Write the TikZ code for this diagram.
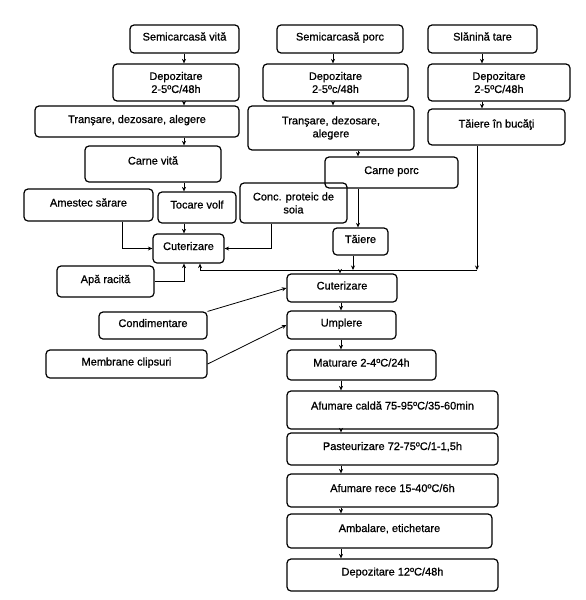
\documentclass[tikz,border=0pt]{standalone}
\usepackage{fontspec}
\setmainfont{Liberation Sans}
\newfontfamily\boxfont[FakeBold=0.7]{Liberation Sans}
\usetikzlibrary{arrows.meta}
\tikzset{
  box/.style={draw, rounded corners=4pt, line width=1.2pt, inner sep=0pt,
    font=\fontsize{11}{13}\boxfont},
  one/.style={box, text height=8pt, text depth=5pt},
  two/.style={box, align=center},
  arr/.style={line width=0.8pt, -{Stealth[length=4.5pt,width=4pt]}},
}
\begin{document}
\begin{tikzpicture}[x=1pt,y=-1pt]
\fill[white] (0,0) rectangle (586,600);
\useasboundingbox (0,0) rectangle (586,600);
% column guides
\coordinate (xv) at (184,0);
\coordinate (xp) at (333,0);
\coordinate (xq) at (358,0);
\coordinate (xs) at (482,0);
\coordinate (xc) at (341,0);
\coordinate (xa) at (122,0);
\coordinate (xk) at (271,0);
% vita
\node[one, minimum width=109pt, minimum height=28pt] (sv) at (184.5,39) {Semicarcasă vită};
\node[two, minimum width=126pt, minimum height=37pt] (dv) at (176,82.5) {Depozitare\\2-5ºC/48h};
\node[one, minimum width=204pt, minimum height=31pt] (tv) at (137,121.5) {Tranşare, dezosare, alegere};
\node[one, text depth=7pt, minimum width=136pt, minimum height=36pt] (cv) at (153,164) {Carne vită};
% porc
\node[one, minimum width=126pt, minimum height=28pt] (sp) at (340,39) {Semicarcasă porc};
\node[two, minimum width=145pt, minimum height=37pt] (dp) at (335.5,82.5) {Depozitare\\2-5ºc/48h};
\node[two, minimum width=166pt, minimum height=44pt] (tp) at (331,128) {Tranşare, dezosare,\\alegere};
\node[one, minimum width=133pt, minimum height=31pt] (cp) at (391.5,172.5) {Carne porc};
% slanina
\node[one, minimum width=109pt, minimum height=28pt] (st) at (482.5,39) {Slănină tare};
\node[two, minimum width=142pt, minimum height=37pt] (ds) at (499,82.5) {Depozitare\\2-5ºC/48h};
\node[one, text depth=7pt, minimum width=137pt, minimum height=36pt] (tb) at (496.5,127) {Tăiere în bucăţi};
% middle
\node[one, minimum width=129pt, minimum height=32pt] (as) at (88.5,205) {Amestec sărare};
\node[one, text depth=6pt, minimum width=78pt, minimum height=31pt] (tvf) at (197,207.5) {Tocare volf};
\node[two, minimum width=107pt, minimum height=40pt] (cps) at (293.5,203) {Conc. proteic de\\soia};
\node[one, minimum width=71pt, minimum height=29pt] (cut1) at (188.5,248.5) {Cuterizare};
\node[one, minimum width=97pt, minimum height=31pt] (ar) at (105.5,281.5) {Apă racită};
\node[one, minimum width=55pt, minimum height=27pt] (tai) at (360.5,241.5) {Tăiere};
\node[one, minimum width=110pt, minimum height=28pt] (cut2) at (342,288) {Cuterizare};
\node[one, minimum width=108pt, minimum height=27pt] (cond) at (153,325.5) {Condimentare};
\node[one, minimum width=161pt, minimum height=28pt] (mem) at (126.5,364) {Membrane clipsuri};
\node[one, minimum width=109pt, minimum height=28pt] (ump) at (341.5,325) {Umplere};
\node[one, minimum width=149pt, minimum height=30pt] (mat) at (361.5,365) {Maturare 2-4ºC/24h};
\node[one, text depth=9pt, minimum width=211pt, minimum height=38pt] (afc) at (392.5,410) {Afumare caldă 75-95ºC/35-60min};
\node[one, text depth=6pt, minimum width=211pt, minimum height=32pt] (pas) at (392.5,449) {Pasteurizare 72-75ºC/1-1,5h};
\node[one, minimum width=211pt, minimum height=33pt] (afr) at (392.5,490.5) {Afumare rece 15-40ºC/6h};
\node[one, text depth=6pt, minimum width=205pt, minimum height=34pt] (amb) at (389.5,531) {Ambalare, etichetare};
\node[one, text depth=7pt, minimum width=211pt, minimum height=32pt] (dep) at (392.5,575) {Depozitare 12ºC/48h};
% junction coordinates
\coordinate (j1) at (477,270);
\coordinate (j2) at (200,270);
\coordinate (j3) at (353,270);
\coordinate (j4) at (340,270);
% vita chain
\draw[arr] (sv.south -| xv) -- (dv.north -| xv);
\draw[arr] (dv.south -| xv) -- (tv.north -| xv);
\draw[arr] (tv.south -| xv) -- (cv.north -| xv);
\draw[arr] (cv.south -| xv) -- (tvf.north -| xv);
\draw[arr] (tvf.south -| xv) -- (cut1.north -| xv);
% porc chain
\draw[arr] (sp.south -| xp) -- (dp.north -| xp);
\draw[arr] (dp.south -| xp) -- (tp.north -| xp);
\draw[arr] (tp.south -| xq) -- (cp.north -| xq);
\draw[arr] (cp.south -| xq) -- (tai.north -| xq);
% slanina chain
\draw[arr] (st.south -| xs) -- (ds.north -| xs);
\draw[arr] (ds.south -| xs) -- (tb.north -| xs);
\draw[arr] (tb.south -| j1) -- (j1);
\draw[arr] (j1) -- (j2) -- (cut1.south -| j2);
\draw[arr] (tai.south -| j3) -- (j3);
\draw[arr] (j4) -- (cut2.north -| j4);
% inputs to cuterizare 1
\draw[arr] (as.south -| xa) |- (cut1.west);
\draw[arr] (cps.south -| xk) |- (cut1.east);
\draw[arr] (ar.east) -| (cut1.south -| xv);
% inputs to right chain
\draw[arr] (cond.north east) -- (cut2.west);
\draw[arr] (mem.east) -- (ump.west);
% main chain
\draw[arr] (cut2.south -| xc) -- (ump.north -| xc);
\draw[arr] (ump.south -| xc) -- (mat.north -| xc);
\draw[arr] (mat.south -| xc) -- (afc.north -| xc);
\draw[arr] (afc.south -| xc) -- (pas.north -| xc);
\draw[arr] (pas.south -| xc) -- (afr.north -| xc);
\draw[arr] (afr.south -| xc) -- (amb.north -| xc);
\draw[arr] (amb.south -| xc) -- (dep.north -| xc);
\end{tikzpicture}
\end{document}
